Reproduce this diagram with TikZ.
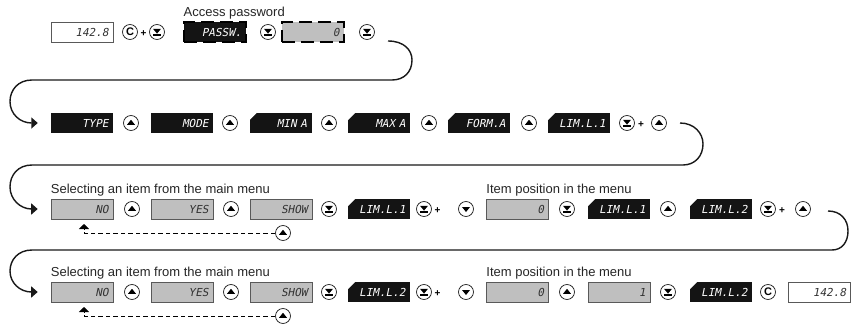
\documentclass[tikz,border=0pt]{standalone}
\usepackage{fontspec}
\setmainfont{Liberation Sans}
\newfontfamily\lcdfont[FakeSlant=0.2]{DejaVu Sans Mono}
\usetikzlibrary{arrows.meta}
\begin{document}
\begin{tikzpicture}[x=1pt,y=-1pt,
  lcd/.style={rectangle, minimum width=62pt, minimum height=20pt, inner sep=0pt, text width=53pt, align=right, font=\lcdfont\fontsize{11}{11}\selectfont},
  blk/.style={lcd, fill=black!92, text=white},
  gry/.style={lcd, fill=black!25, draw=black!65, line width=0.6pt, text=black!80},
  wht/.style={lcd, fill=white, draw=black!65, line width=0.6pt, text=black!80},
  blink/.style={draw=black, line width=1.1pt, dash pattern=on 13pt off 6pt},
  corner/.style={path picture={\fill[white] (path picture bounding box.north west) -- ++(7pt,0pt) -- ++(-7pt,-7pt) -- cycle;}},
  btn/.style={circle, draw=black!85, line width=0.75pt, minimum size=15pt, inner sep=0pt},
  upb/.style={btn, path picture={\fill ([shift={(-4pt,-1.8pt)}]path picture bounding box.center) -- ++(8pt,0pt) -- ++(-4pt,5pt) -- cycle;}},
  dnb/.style={btn, path picture={\fill ([shift={(-4pt,2pt)}]path picture bounding box.center) -- ++(8pt,0pt) -- ++(-4pt,-5pt) -- cycle;}},
  dbb/.style={btn, path picture={\fill ([shift={(-4pt,3.2pt)}]path picture bounding box.center) -- ++(8pt,0pt) -- ++(-4pt,-4.8pt) -- cycle; \fill ([shift={(-4.3pt,-3.8pt)}]path picture bounding box.center) rectangle ++(8.6pt,1.4pt);}},
  cbtn/.style={btn, font=\bfseries\fontsize{11}{11}\selectfont, text=black},
  plus/.style={inner sep=0pt, yshift=-1.5pt, font=\bfseries\fontsize{10}{10}\selectfont},
  lbl/.style={anchor=south west, inner sep=0pt, font=\fontsize{13}{13}\selectfont, text=black!85},
  flow/.style={line width=1.4pt, draw=black!90, -{Triangle[width=11pt,length=6.5pt]}},
  ret/.style={line width=1pt, dash pattern=on 4.5pt off 3pt, -{Triangle[width=10pt,length=5pt]}}
]
\useasboundingbox (0,0) rectangle (851,324);
\fill[white] (0,0) rectangle (851,324);

% row 1
\node[wht] (r1a) at (82,32) {142.8};
\node[cbtn] (r1c) at (130,32) {C};
\node[plus] (r1p) at (143.5,32) {+};
\node[dbb] (r1d1) at (157,32) {};
\node[blk, blink] (r1pw) at (215,32) {PASSW.};
\node[dbb] (r1d2) at (268,32) {};
\node[gry, blink] (r1z) at (313,32) {0};
\node[dbb] (r1d3) at (367,32) {};
\node[lbl] (l1) at ([yshift=2pt]r1pw.north west) {Access password};

% row 2
\node[blk] (r2a) at (82,123) {TYPE};
\node[upb] (r2u1) at (131,123) {};
\node[blk] (r2b) at (182,123) {MODE};
\node[upb] (r2u2) at (230,123) {};
\node[blk, corner] (r2c) at (280.5,123) {MIN A};
\node[upb] (r2u3) at (329,123) {};
\node[blk, corner] (r2d) at (379,123) {MAX A};
\node[upb] (r2u4) at (429,123) {};
\node[blk, corner] (r2e) at (479,123) {FORM.A};
\node[upb] (r2u5) at (529,123) {};
\node[blk, corner] (r2f) at (579,123) {LIM.L.1};
\node[dbb] (r2d1) at (627,123) {};
\node[plus] (r2p) at (641,123) {+};
\node[upb] (r2u6) at (659,123) {};

% row 3
\node[gry] (r3a) at (82,209) {NO};
\node[upb] (r3u1) at (132,209) {};
\node[gry] (r3b) at (182,209) {YES};
\node[upb] (r3u2) at (231,209) {};
\node[gry] (r3c) at (281,209) {SHOW};
\node[dbb] (r3d1) at (329,209) {};
\node[blk, corner] (r3d) at (379,209) {LIM.L.1};
\node[dbb] (r3d2) at (424,209) {};
\node[plus] (r3p1) at (437.5,209) {+};
\node[dnb] (r3n1) at (466,209) {};
\node[gry] (r3e) at (517.5,209) {0};
\node[dbb] (r3d3) at (567,209) {};
\node[blk, corner] (r3f) at (619,209) {LIM.L.1};
\node[upb] (r3u3) at (668,209) {};
\node[blk, corner] (r3g) at (721,209) {LIM.L.2};
\node[dbb] (r3d4) at (768,209) {};
\node[plus] (r3p2) at (782,209) {+};
\node[upb] (r3u4) at (803,209) {};
\node[lbl] (l3a) at ([yshift=2pt]r3a.north west) {Selecting an item from the main menu};
\node[lbl] (l3b) at ([yshift=2pt]r3e.north west) {Item position in the menu};
\node[upb] (r3r) at (283,233) {};
\coordinate (r3k) at (84,233);
\coordinate (r3t) at (84,224);
\draw[ret] (r3r.west) -- (r3k) -- (r3t);

% row 4
\node[gry] (r4a) at (82,292) {NO};
\node[upb] (r4u1) at (132,292) {};
\node[gry] (r4b) at (182,292) {YES};
\node[upb] (r4u2) at (231,292) {};
\node[gry] (r4c) at (281,292) {SHOW};
\node[dbb] (r4d1) at (329,292) {};
\node[blk, corner] (r4d) at (379,292) {LIM.L.2};
\node[dbb] (r4d2) at (424,292) {};
\node[plus] (r4p1) at (437.5,292) {+};
\node[dnb] (r4n1) at (466,292) {};
\node[gry] (r4e) at (517.5,292) {0};
\node[upb] (r4u3) at (567,292) {};
\node[gry] (r4f) at (619,292) {1};
\node[dbb] (r4d3) at (668,292) {};
\node[blk, corner] (r4g) at (721,292) {LIM.L.2};
\node[cbtn] (r4c2) at (768,292) {C};
\node[wht] (r4h) at (819.5,292) {142.8};
\node[lbl] (l4a) at ([yshift=2pt]r4a.north west) {Selecting an item from the main menu};
\node[lbl] (l4b) at ([yshift=2pt]r4e.north west) {Item position in the menu};
\node[upb] (r4r) at (283,316) {};
\coordinate (r4k) at (84,316);
\coordinate (r4t) at (84,307);
\draw[ret] (r4r.west) -- (r4k) -- (r4t);

% flow connectors
\coordinate (f1s) at (388,41);
\coordinate (f1e) at ([xshift=-13pt]r2a.west);
\draw[flow] (f1s) .. controls (404,41) and (412,50) .. (412,60) .. controls (412,72) and (404,80) .. (392,80) -- (32,80) .. controls (18,80) and (10,90) .. (10,101.5) .. controls (10,114) and (20,123) .. (f1e);

\coordinate (f2s) at (680,123);
\coordinate (f2e) at ([xshift=-13pt]r3a.west);
\draw[flow] (f2s) .. controls (694,123) and (703,133) .. (703,144) .. controls (703,156) and (695,165) .. (683,165) -- (32,165) .. controls (18,165) and (10,175) .. (10,187) .. controls (10,199) and (20,209) .. (f2e);

\coordinate (f3s) at (828,211);
\coordinate (f3e) at ([xshift=-13pt]r4a.west);
\draw[flow] (f3s) .. controls (841,211) and (848,220) .. (848,231) .. controls (848,242) and (842,250) .. (832,250) -- (32,250) .. controls (18,250) and (10,260) .. (10,271) .. controls (10,283) and (20,292) .. (f3e);
\end{tikzpicture}
\end{document}
